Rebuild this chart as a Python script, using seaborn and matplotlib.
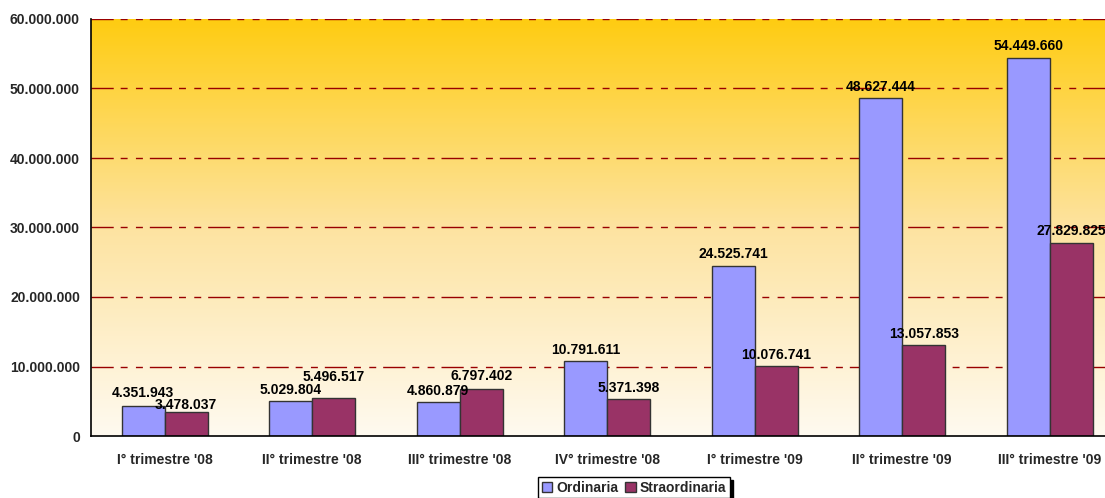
import numpy as np
import pandas as pd
import matplotlib
matplotlib.use("Agg")
import matplotlib.pyplot as plt
import seaborn as sns
from matplotlib.colors import LinearSegmentedColormap

categories = ["I° trimestre '08", "II° trimestre '08", "III° trimestre '08", "IV° trimestre '08",
              "I° trimestre '09", "II° trimestre '09", "III° trimestre '09"]
ordinaria = [4351943, 5029804, 4860879, 10791611, 24525741, 48627444, 54449660]
straordinaria = [3478037, 5496517, 6797402, 5371398, 10076741, 13057853, 27829825]
series_names = ["Ordinaria", "Straordinaria"]
yticks = [0, 10000000, 20000000, 30000000, 40000000, 50000000, 60000000]

# label padding (points) per series / category, to mimic the original placement
label_pad = [[4, 3, 3, 3, 3, 3, 3],
             [0, 10, 4, 3, 3, 3, 3]]

def fmt(v):
    return f"{int(round(v)):,}".replace(",", ".")

df = pd.DataFrame({
    "cat": categories * 2,
    "serie": [series_names[0]] * len(categories) + [series_names[1]] * len(categories),
    "val": ordinaria + straordinaria,
})

sns.set_theme(style="white")
plt.rcParams["font.family"] = ["Liberation Sans", "DejaVu Sans"]
plt.rcParams["font.weight"] = "bold"

fig = plt.figure(figsize=(11.05, 4.98), dpi=100)
ax = fig.add_axes([91 / 1105, 62 / 498, 1032.5 / 1105, (436 - 19) / 498])

# gradient background
cmap = LinearSegmentedColormap.from_list("bg", ["#FFFAF0", "#FDE3A0", "#FFCC11"])
grad = np.linspace(0, 1, 256).reshape(-1, 1)
ax.imshow(grad, extent=[-0.5, 6.5, 0, 60000000], origin="lower", aspect="auto",
          cmap=cmap, zorder=0)

sns.barplot(data=df, x="cat", y="val", hue="serie", palette=["#9999FF", "#993366"],
            saturation=1, width=0.58, edgecolor="#333333", linewidth=1.0, ax=ax, zorder=3,
            legend=True)

for si, c in enumerate(ax.containers):
    for bi, bar in enumerate(c):
        h = bar.get_height()
        ax.annotate(fmt(h), (bar.get_x() + bar.get_width() / 2, h),
                    xytext=(0, label_pad[si][bi]), textcoords="offset points",
                    ha="center", va="bottom", fontsize=10, fontweight="bold",
                    color="black", zorder=5, annotation_clip=False)

ax.set_xlim(-0.5, 6.5)
ax.set_ylim(0, 60000000)
ax.set_yticks(yticks)
ax.set_yticklabels([fmt(v) for v in yticks], fontsize=10, fontweight="bold")
ax.set_xticks(range(len(categories)))
ax.set_xticklabels(categories, fontsize=10, fontweight="bold")
ax.set_xticks(np.arange(-0.5, 7, 1), minor=True)
ax.tick_params(axis="x", which="major", length=0, pad=12)
ax.tick_params(axis="x", which="minor", length=5, width=1, color="black", direction="out")
ax.tick_params(axis="y", which="major", length=5, width=1, color="black", direction="out", pad=3)
ax.set_xlabel("")
ax.set_ylabel("")

for y in yticks[1:]:
    ax.axhline(y, color="#990000", linewidth=1, linestyle=(0, (16, 5, 5, 6, 5, 5)), zorder=2)

for s in ["top", "right"]:
    ax.spines[s].set_visible(False)
for s in ["left", "bottom"]:
    ax.spines[s].set_color("black")
    ax.spines[s].set_linewidth(1.2)
    ax.spines[s].set_zorder(6)

handles, labels = ax.get_legend_handles_labels()
ax.get_legend().remove()
leg = fig.legend(handles, labels, loc="center", bbox_to_anchor=(0.574, 0.021), ncol=2,
                 frameon=True, fancybox=False, edgecolor="black", framealpha=1,
                 handlelength=0.75, handleheight=0.75, handletextpad=0.3, columnspacing=0.5,
                 borderpad=0.25, borderaxespad=0, prop={"size": 10, "weight": "bold"},
                 shadow={"color": "black", "alpha": 1})
leg.get_frame().set_linewidth(1)

fig.savefig("out.png", dpi=100)
